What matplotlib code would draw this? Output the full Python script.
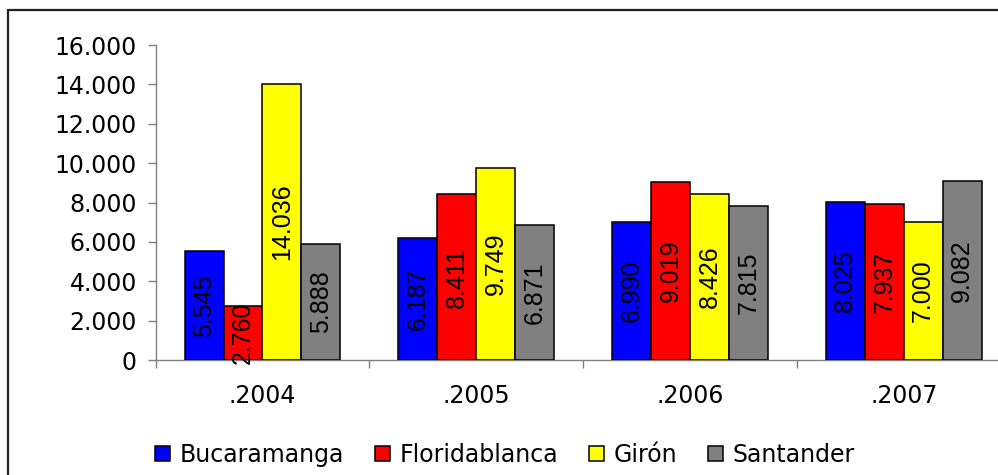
import matplotlib.pyplot as plt
import matplotlib.patches as mpatches
from matplotlib.ticker import FuncFormatter, FixedLocator
import numpy as np

years = [".2004", ".2005", ".2006", ".2007"]
series = ["Bucaramanga", "Floridablanca", "Girón", "Santander"]
bucaramanga = [5545, 6187, 6990, 8025]
floridablanca = [2760, 8411, 9019, 7937]
giron = [14036, 9749, 8426, 7000]
santander = [5888, 6871, 7815, 9082]
colors = ["#0000FF", "#FF0000", "#FFFF00", "#808080"]

plt.rcParams['font.family'] = ['DejaVu Sans']

fig = plt.figure(figsize=(9.98, 4.75), dpi=100)
ax = fig.add_axes([155.6 / 998, 115 / 475, 855 / 998, 315 / 475])

x = np.arange(len(years)) + 0.5
w = 0.182
data = [bucaramanga, floridablanca, giron, santander]
for i, (vals, col, name) in enumerate(zip(data, colors, series)):
    bars = ax.bar(x + (i - 1.5) * w, vals, width=w, color=col,
                  edgecolor="black", linewidth=1.1, label=name, zorder=3)
    for b, v in zip(bars, vals):
        ax.text(b.get_x() + b.get_width() / 2, v / 2,
                f"{v:,}".replace(",", "."), rotation=90,
                ha="center", va="center", fontsize=18,
                family="Liberation Sans", color="black", zorder=4)

ax.set_xlim(0, 4)
ax.set_ylim(0, 16000)
ax.set_yticks(range(0, 16001, 2000))
ax.yaxis.set_major_formatter(FuncFormatter(lambda v, p: f"{int(v):,}".replace(",", ".")))
ax.set_xticks(x)
ax.set_xticklabels(years)
ax.xaxis.set_minor_locator(FixedLocator([0, 1, 2, 3, 4]))
ax.tick_params(axis="x", which="major", length=0, pad=17, labelsize=17)
ax.tick_params(axis="x", which="minor", length=5.5, color="#808080", width=1)
ax.tick_params(axis="y", length=5.5, color="#808080", width=1, pad=8, labelsize=17)

for s in ["top", "right"]:
    ax.spines[s].set_visible(False)
for s in ["left", "bottom"]:
    ax.spines[s].set_color("#808080")
    ax.spines[s].set_linewidth(1)

fig.legend(loc="center", bbox_to_anchor=(505 / 998, 1 - 455 / 475), ncol=4,
           frameon=False, fontsize=17, handlelength=0.65, handleheight=0.6,
           handletextpad=0.4, columnspacing=1.3, borderaxespad=0)

frame = mpatches.Rectangle((8 / 998, -0.2), 1.2, 1.2 - 10 / 475,
                           transform=fig.transFigure, fill=False,
                           edgecolor="#222222", linewidth=1.6)
fig.patches.append(frame)

fig.savefig("out.png", dpi=100)
